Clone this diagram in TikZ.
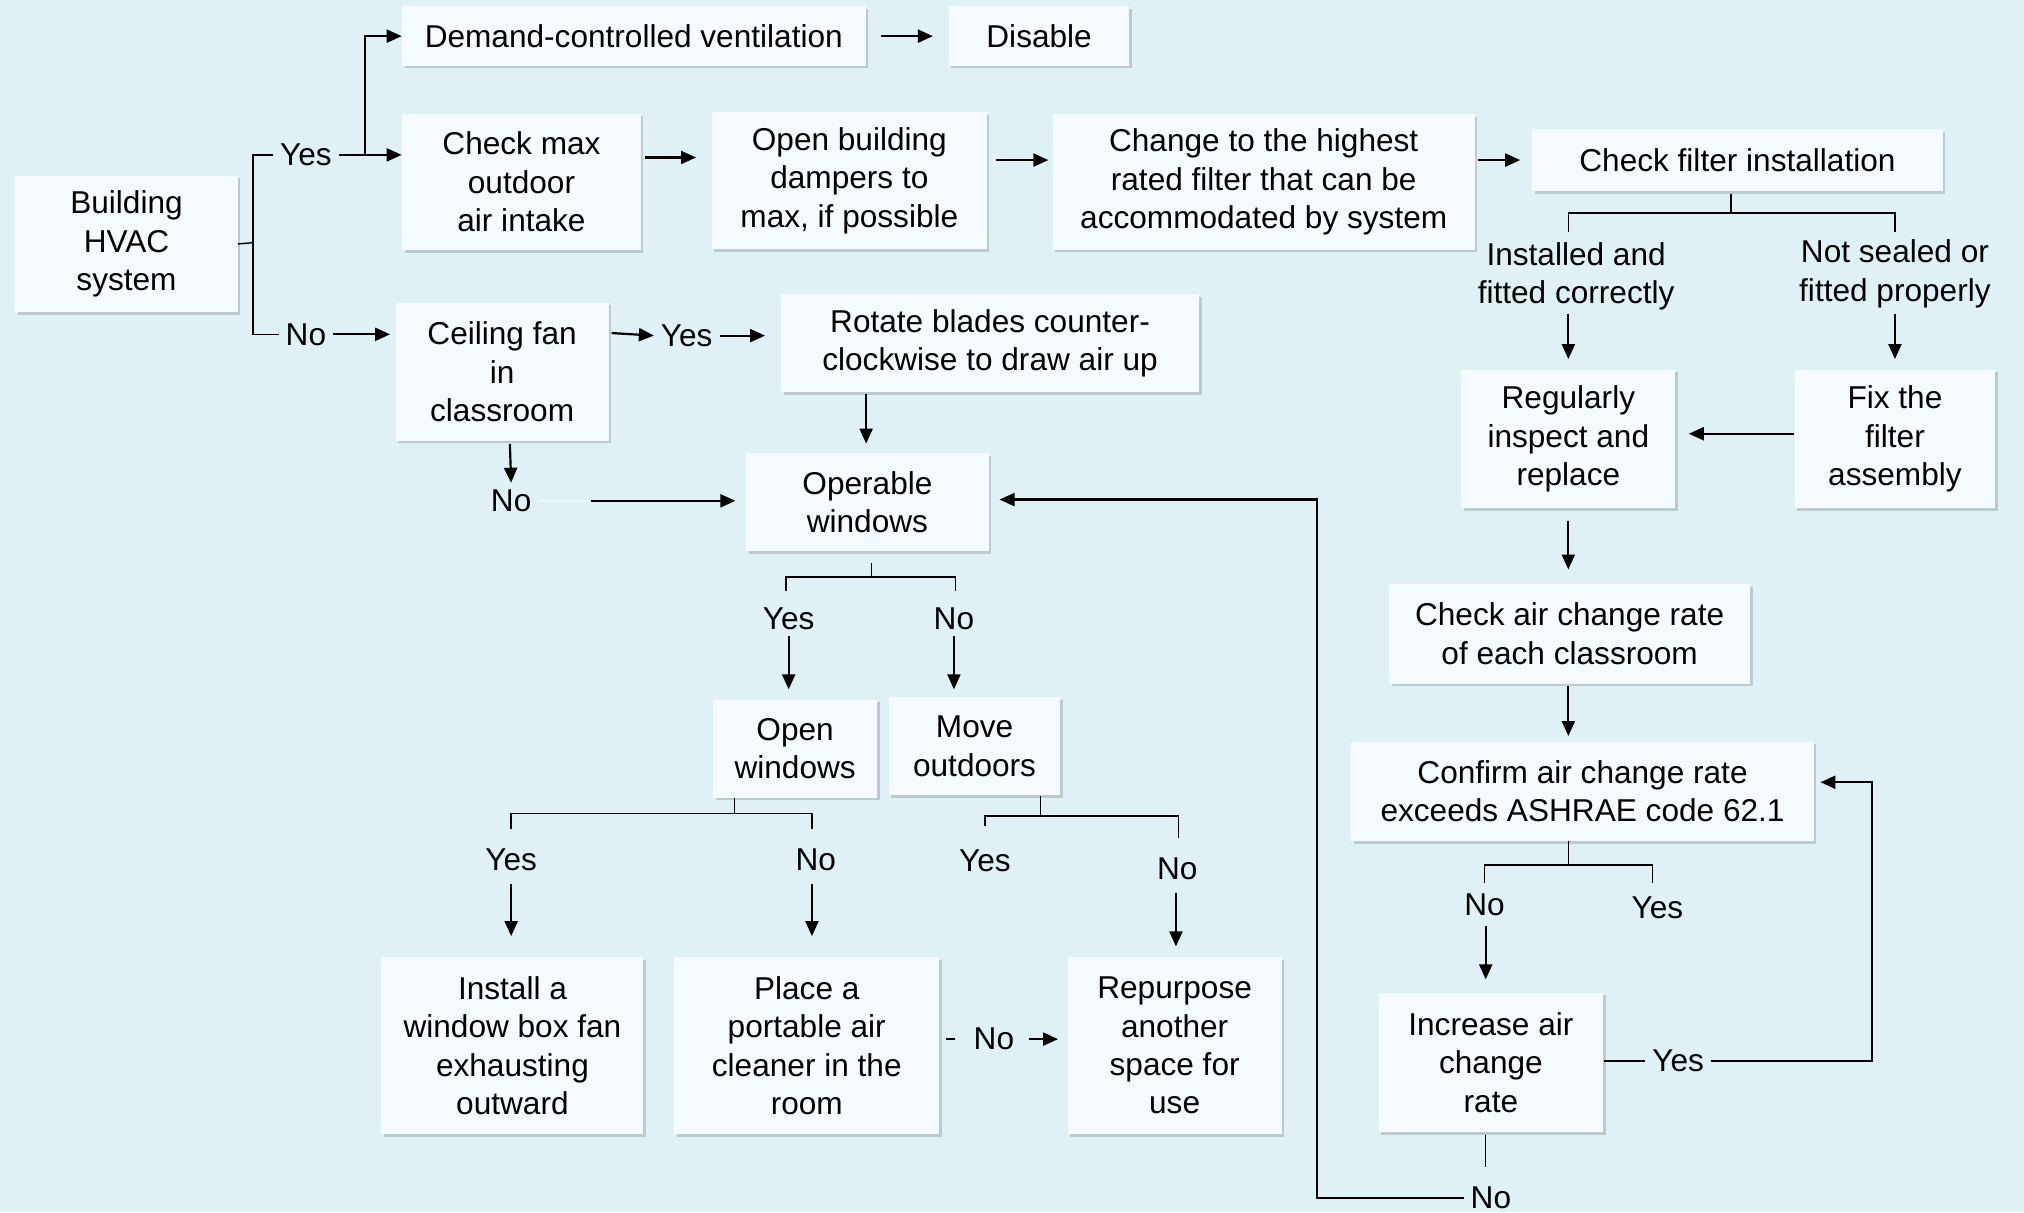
\documentclass[tikz,border=0pt]{standalone}
\usepackage{fontspec}
\setmainfont{Liberation Sans}
\usetikzlibrary{arrows.meta,shadows}
\definecolor{bg}{HTML}{DFF1F5}
\definecolor{boxfill}{HTML}{F5FAFE}
\newlength\uu
\setlength\uu{0.6454pt}
\newcommand\Bx[6]{\node[box,minimum width=#4\uu,minimum height=#5\uu] (#1) at (#2,#3) {#6};}
\begin{document}
\begin{tikzpicture}[x=0.6454pt,y=-0.6454pt,
  every node/.style={font=\fontsize{15.8}{19.2}\selectfont},
  box/.style={fill=boxfill,inner sep=0pt,align=center,
    drop shadow={shadow xshift=1.3pt,shadow yshift=-1.3pt,fill=black,opacity=0.16}},
  lbl/.style={align=center,inner sep=0.3333em},
  arr/.style={line width=1.1pt,-{Triangle[length=7.5pt,width=6.5pt]}},
  ln/.style={line width=0.7pt}]
\fill[bg] (0,0) rectangle (1568,939);
\useasboundingbox (0,0) rectangle (1568,939);
% boxes
\Bx{hvac}{98}{189}{172}{106}{Building\\HVAC\\system}
\Bx{dcv}{491}{28}{359}{46}{Demand-controlled ventilation}
\Bx{dis}{805}{28}{140}{46}{Disable}
\Bx{chk}{404}{141}{185}{106}{Check max\\outdoor\\air intake}
\Bx{damp}{658}{140}{213}{106}{Open building\\dampers to\\max, if possible}
\Bx{filt}{979}{141}{327}{105}{Change to the highest\\rated filter that can be\\accommodated by system}
\Bx{cfi}{1346}{124}{318}{48}{Check filter installation}
\Bx{fan}{389}{288}{165}{107}{Ceiling fan\\in\\classroom}
\Bx{rot}{767}{266}{324}{76}{Rotate blades counter-\\clockwise to draw air up}
\Bx{opw}{672}{389}{188}{76}{Operable\\windows}
\Bx{openw}{616}{580}{127}{76}{Open\\windows}
\Bx{move}{755}{578}{133}{76}{Move\\outdoors}
\Bx{inst}{397}{810}{203}{137}{Install a\\window box fan\\exhausting\\outward}
\Bx{place}{625}{810}{205}{137}{Place a\\portable air\\cleaner in the\\room}
\Bx{rep}{910}{810}{166}{137}{Repurpose\\another\\space for\\use}
\Bx{reg}{1215}{340}{166}{107}{Regularly\\inspect and\\replace}
\Bx{fix}{1468}{340}{155}{107}{Fix the\\filter\\assembly}
\Bx{chkair}{1216}{491}{280}{77}{Check air change rate\\of each classroom}
\Bx{conf}{1226}{613}{358}{77}{Confirm air change rate\\exceeds ASHRAE code 62.1}
\Bx{inc}{1155}{823}{174}{108}{Increase air\\change\\rate}
% labels
\node[lbl] (lyes1) at (237,120) {Yes};
\node[lbl] (lno1) at (237,259) {No};
\node[lbl] (lyes2) at (532,260) {Yes};
\node[lbl] (lno2) at (396,388) {No};
\node[lbl] (lyes3) at (611,479) {Yes};
\node[lbl] (lno3) at (739,479) {No};
\node[lbl] (lyes4) at (396,666) {Yes};
\node[lbl] (lno4) at (632,666) {No};
\node[lbl] (lyes5) at (763,667) {Yes};
\node[lbl] (lno5) at (912,673) {No};
\node[lbl] (lno6) at (770,805) {No};
\node[lbl] (linst) at (1221,214) {Installed and\\fitted correctly};
\node[lbl] (lnots) at (1468,212) {Not sealed or\\fitted properly};
\node[lbl] (lno7) at (1150,701) {No};
\node[lbl] (lyes7) at (1284,703) {Yes};
\node[lbl] (lyes8) at (1300,822) {Yes};
\node[lbl] (lno8) at (1155,928) {No};
% connectors: HVAC branch
\draw[ln] (hvac.east) -- (196,188);
\draw[ln] (lyes1.west) -- (196,120) -- (196,259) -- (lno1.west);
\draw[arr] (lyes1.east) -- (lyes1.east -| chk.west);
\draw[arr] (283,120) -- (283,28) -- (dcv.west);
\draw[arr] (lno1.east) -- ([shift={(-4,0)}]lno1.east -| fan.west);
\draw[arr] ([shift={(12,0)}]dcv.east) -- ([shift={(-12,0)}]dis.west);
\draw[arr] ([shift={(3,-19)}]chk.east) -- ([shift={(-12,-18)}]damp.west);
\draw[arr] ([shift={(7,-16)}]damp.east) -- ([shift={(-3,-17)}]filt.west);
\draw[arr] ([shift={(2,-17)}]filt.east) -- ([shift={(-9,0)}]cfi.west);
% filter check bracket
\draw[ln] ([shift={(-5,2)}]cfi.south) -- (1341,165);
\draw[ln] (1215,180) -- (1215,165) -- (1468,165) -- (1468,180);
\draw[arr] (1215,243) -- ([shift={(0,-8)}]reg.north);
\draw[arr] (1468,243) -- ([shift={(0,-8)}]fix.north);
\draw[arr] ([shift={(0,-4)}]fix.west) -- ([shift={(10,-4)}]reg.east);
\draw[arr] ([shift={(0,10)}]reg.south) -- ([shift={(-1,-11)}]chkair.north);
\draw[arr] ([shift={(-1,2)}]chkair.south) -- ([shift={(-11,-4)}]conf.north);
% confirm bracket
\draw[ln] ([shift={(-11,0)}]conf.south) -- (1215,670);
\draw[ln] (1150,684) -- (1150,670) -- (1280,670) -- (1280,684);
\draw[arr] (1151,717) -- ([shift={(-4,-10)}]inc.north);
\draw[ln] (lyes8.west -| inc.east) -- (lyes8.west);
\draw[arr] (lyes8.east) -- (1450,822) -- (1450,606) -- ([shift={(5,-7)}]conf.east);
\draw[ln] ([shift={(-4,2)}]inc.south) -- (1151,904);
\draw[arr] (lno8.west) -- (1020,928) -- (1020,387) -- ([shift={(8,-2)}]opw.east);
% ceiling fan
\draw[arr] ([shift={(2,-30)}]fan.east) -- (lyes2.west);
\draw[arr] (lyes2.east) -- ([shift={(-12,-6)}]rot.west);
\draw[arr] ([shift={(-96,1)}]rot.south) -- ([shift={(-1,-7)}]opw.north);
\draw[arr] ([shift={(6,2)}]fan.south) -- (lno2.north);
\draw[line width=1pt,white,opacity=0.45] (lno2.east) -- (458,388);
\draw[arr] (458,388) -- ([shift={(-8,-1)}]opw.west);
% operable windows bracket
\draw[ln] ([shift={(3,9)}]opw.south) -- (675,447);
\draw[ln] (609,458) -- (609,447) -- (740,447) -- (740,458);
\draw[arr] (lyes3.south) -- ++(0,41);
\draw[arr] (lno3.south) -- ++(0,41);
% open windows bracket
\draw[ln] ([shift={(-47,0)}]openw.south) -- (569,630);
\draw[ln] (396,642) -- (396,630) -- (629,630) -- (629,642);
\draw[arr] (396,685) -- ([shift={(-1,-16)}]inst.north);
\draw[arr] (629,685) -- ([shift={(4,-16)}]place.north);
% move outdoors bracket
\draw[ln] ([shift={(51,0)}]move.south) -- (806,632);
\draw[ln] (763,640) -- (763,632) -- (913,632) -- (913,649);
\draw[arr] (911,692) -- ([shift={(1,-8)}]rep.north);
% place -> repurpose
\draw[ln] ([shift={(5,-5)}]place.east) -- (740,805);
\draw[arr] (797,805) -- ([shift={(-7,-5)}]rep.west);
\end{tikzpicture}
\end{document}
